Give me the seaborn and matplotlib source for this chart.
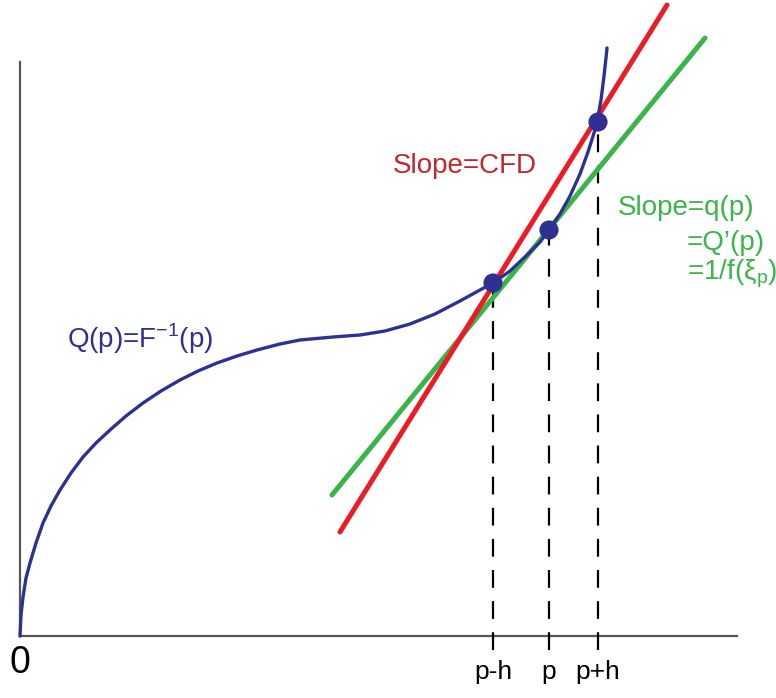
import matplotlib
matplotlib.use("Agg")
import matplotlib.pyplot as plt
import seaborn as sns
import pandas as pd

# ---- data (x = p direction, y = Q(p) direction, arbitrary units) ----
curve_p = [0, 1, 3, 6, 10, 16, 23, 31, 40, 51, 63, 76, 90, 106, 123, 141, 160, 178,
           197, 217, 237, 260, 280, 313, 340, 365, 390, 415, 440, 460, 473, 490, 507,
           520, 529, 540, 550, 560, 568, 574, 577, 581, 584, 586, 587]
curve_q = [0, 21, 39, 58, 73, 93, 113, 130, 146, 163, 179, 193, 206, 220, 233, 245, 256, 265,
           273, 280, 286, 292, 296, 299, 301, 305, 312, 322, 335, 346, 353, 365, 381,
           394, 406, 422, 440, 462, 484, 503, 514, 536, 560, 578, 588]

point_p = [473, 529, 578]
point_q = [353, 406, 514]
point_labels = ["p-h", "p", "p+h"]

cfd_x = [320, 647]       # secant (red)
cfd_y = [104, 631]
tan_x = [312, 685]       # tangent (green)
tan_y = [141, 598]

BLUE = "#2E3192"
RED = "#ED1C24"
RED_TXT = "#C1272D"
GREEN = "#39B54A"
AXIS = "#555555"

sns.set_theme(style="white")
plt.rcParams["font.family"] = ["Liberation Sans", "DejaVu Sans"]
plt.rcParams["mathtext.fontset"] = "custom"
plt.rcParams["mathtext.rm"] = "Liberation Sans"

fig = plt.figure(figsize=(7.76, 6.98), dpi=100)
ax = fig.add_axes([0, 0, 1, 1])
ax.set_xlim(-20, 756)
ax.set_ylim(-62, 636)

# dashed guides
ax.vlines(point_p, -14, point_q, colors="black", linestyles=(0, (8, 6)), linewidth=1.6, zorder=1)

curve_df = pd.DataFrame({"p": curve_p, "q": curve_q})
sns.lineplot(data=curve_df, x="p", y="q", sort=False, estimator=None, color=BLUE,
             linewidth=2.4, ax=ax, zorder=4)
sns.lineplot(x=tan_x, y=tan_y, color=GREEN, linewidth=3.6, ax=ax, zorder=2)
sns.lineplot(x=cfd_x, y=cfd_y, color=RED, linewidth=3.6, ax=ax, zorder=3)
sns.scatterplot(x=point_p, y=point_q, color=BLUE, s=190, edgecolor="none", ax=ax, zorder=5)

# axes spines
for side in ["top", "right"]:
    ax.spines[side].set_visible(False)
ax.spines["left"].set_position(("data", 0))
ax.spines["bottom"].set_position(("data", 0))
ax.spines["left"].set_bounds(0, 574)
ax.spines["bottom"].set_bounds(0, 717)
for side in ["left", "bottom"]:
    ax.spines[side].set_color(AXIS)
    ax.spines[side].set_linewidth(1.6)
    ax.spines[side].set_zorder(0)

ax.set_yticks([])
ax.set_xticks(point_p)
ax.set_xticklabels(point_labels, fontsize=19)
ax.tick_params(axis="x", length=0, pad=17, colors="black")
ax.set_xlabel("")
ax.set_ylabel("")

ax.text(0, -27, "0", fontsize=27, ha="center", va="center", color="black")

ax.text(47, 288, r"Q(p)=F$^{\mathregular{-1}}$(p)", fontsize=20, color=BLUE, ha="left", va="baseline")
ax.text(373, 463, "Slope=CFD", fontsize=20, color=RED_TXT, ha="left", va="baseline")
ax.text(598, 421, "Slope=q(p)", fontsize=20, color=GREEN, ha="left", va="baseline")
ax.text(667, 386, "=Q’(p)", fontsize=20, color=GREEN, ha="left", va="baseline")
ax.text(667, 357, r"=1/f(ξ$_{\mathregular{p}}$)", fontsize=20, color=GREEN, ha="left", va="baseline")

fig.savefig("out.png", dpi=100)
